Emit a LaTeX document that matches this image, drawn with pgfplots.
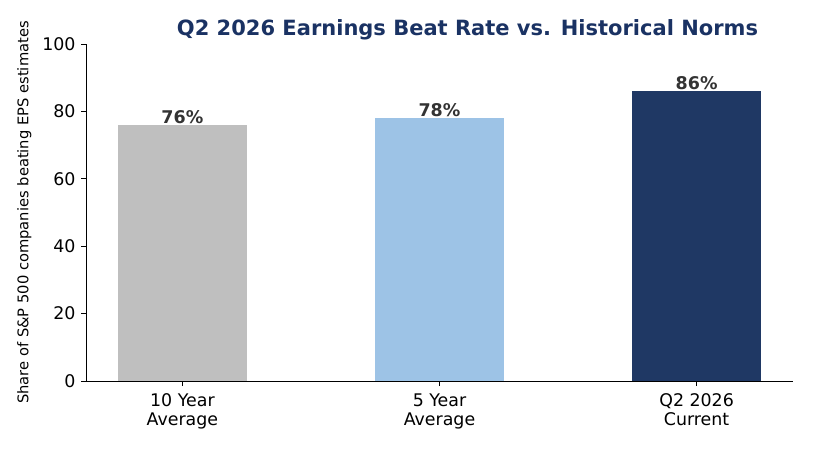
\documentclass[border=0pt]{standalone}
\usepackage{fontspec}
\setmainfont{DejaVu Sans}
\setsansfont{DejaVu Sans}
\usepackage{pgfplots}
\pgfplotsset{compat=1.18}
\definecolor{cgray}{HTML}{BFBFBF}
\definecolor{cblue}{HTML}{9DC3E6}
\definecolor{cnavy}{HTML}{1F3864}
\definecolor{ctitle}{HTML}{1A3263}
\definecolor{clab}{HTML}{333333}
\begin{document}
\begin{tikzpicture}[x=1pt,y=1pt]
\path[use as bounding box] (0,0) rectangle (813,450);
\begin{axis}[
  at={(86pt,69pt)}, anchor=south west,
  scale only axis, width=707pt, height=337pt,
  xmin=-0.375, xmax=2.375, ymin=0, ymax=100,
  xtick={0,1,2},
  xticklabels={{10 Year\\Average},{5 Year\\Average},{Q2 2026\\Current}},
  xticklabel style={align=center, font=\fontsize{17.4}{19.5}\selectfont, yshift=-4pt},
  yticklabel style={font=\fontsize{17.4}{19}\selectfont, xshift=-2pt},
  /pgf/number format/assume math mode=true,
  ytick={0,20,40,60,80,100},
  axis x line*=bottom, axis y line*=left,
  tick align=outside, major tick length=5pt,
  tick style={black, line width=0.9pt},
  axis line style={line width=0.9pt, black, -},
  ylabel={Share of S\&P 500 companies beating EPS estimates},
  ylabel style={font=\fontsize{14.7}{16}\selectfont, yshift=4pt},
  title={\bfseries Q2 2026 Earnings Beat Rate vs. Historical Norms},
  title style={font=\fontsize{21}{24}\selectfont, color=ctitle, yshift=-6pt, xshift=28pt},
  bar width=128.5pt,
  nodes near coords style={font=\bfseries\fontsize{17.5}{19}\selectfont, color=clab, anchor=south, yshift=-2pt},
]
\addplot[ybar, fill=cgray, draw=none, nodes near coords={\pgfmathprintnumber{\pgfplotspointmeta}\%}] coordinates {(0,76)};
\addplot[ybar, fill=cblue, draw=none, nodes near coords={\pgfmathprintnumber{\pgfplotspointmeta}\%}] coordinates {(1,78)};
\addplot[ybar, fill=cnavy, draw=none, nodes near coords={\pgfmathprintnumber{\pgfplotspointmeta}\%}] coordinates {(2,86)};
\end{axis}
\end{tikzpicture}
\end{document}
